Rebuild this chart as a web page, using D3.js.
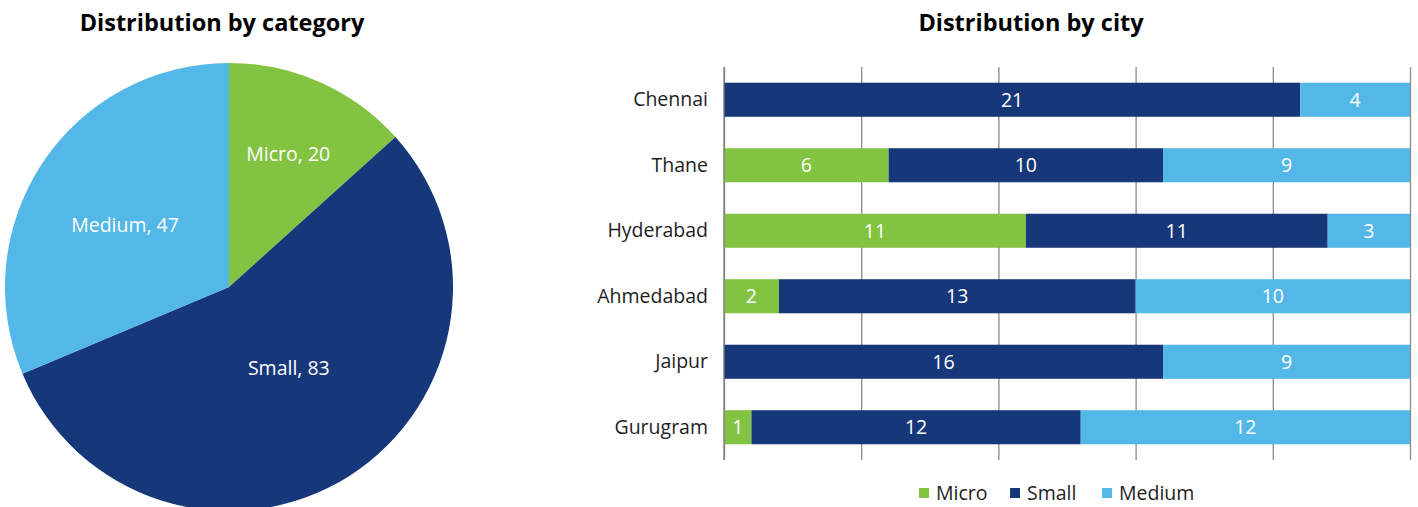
<!DOCTYPE html>
<html>
    <head>
        <title>Distribution charts</title>
        <script src="https://d3js.org/d3.v7.min.js"></script>
        <style>
            body { margin:0; background:#fff; }
            svg { display:block; font-family:'Open Sans', sans-serif; }
        </style>
    </head>
    <body>
        <svg width="1418" height="507"></svg>
    </body>
    <script>
        // chart data
        const pieCategories = ['Micro', 'Small', 'Medium'];
        const pieValues = [20, 83, 47];
        const cities = ['Chennai', 'Thane', 'Hyderabad', 'Ahmedabad', 'Jaipur', 'Gurugram'];
        const microValues = [0, 6, 11, 2, 0, 1];
        const smallValues = [21, 10, 11, 13, 16, 12];
        const mediumValues = [4, 9, 3, 10, 9, 12];
        const xTicks = [0, 5, 10, 15, 20, 25];

        const colors = { Micro:'#82c341', Small:'#17377b', Medium:'#53b8e7' };
        const labelSize = '19.5px';
        let svg = d3.select('svg');

        // ---- pie ----
        let pieG = svg.append('g').attr('transform', 'translate(229,287)');
        let radius = 224;
        let pieData = d3.pie().sort(null)(pieValues)
                        .map((p,i) => Object.assign(p, {name: pieCategories[i]}));
        let arc = d3.arc().innerRadius(0).outerRadius(radius);
        pieG.selectAll('path')
            .data(pieData)
            .join('path')
            .attr('d', arc)
            .style('fill', d => colors[d.name]);

        // label radius (share of pie radius) and angle nudge, Excel "best fit" look
        let labelR = { Micro:0.65, Small:0.45, Medium:0.54 };
        let labelShift = { Micro:0, Small:-0.07, Medium:-0.05 };
        pieG.selectAll('.pie-label')
            .data(pieData)
            .join('text')
            .classed('pie-label', true)
            .attr('transform', d => {
                let r = labelR[d.name] * radius;
                let a = (d.startAngle + d.endAngle) / 2 + labelShift[d.name];
                return `translate(${r * Math.sin(a)},${-r * Math.cos(a)})`;
            })
            .attr('text-anchor', 'middle')
            .attr('dy', '0.35em')
            .style('fill', '#fff')
            .style('font-size', labelSize)
            .text(d => `${d.name}, ${d.value}`);

        svg.append('text')
            .attr('x', 222).attr('y', 31)
            .attr('text-anchor', 'middle')
            .style('font-weight', 'bold')
            .style('font-size', '23.5px')
            .text('Distribution by category');

        // ---- stacked bars ----
        svg.append('text')
            .attr('x', 1031).attr('y', 31)
            .attr('text-anchor', 'middle')
            .style('font-weight', 'bold')
            .style('font-size', '23.5px')
            .text('Distribution by city');

        let xScale = d3.scaleLinear().domain([0, 25]).range([724, 1410]);
        let yScale = d3.scaleBand().domain(cities).range([67, 460])
                        .paddingInner(0.48).paddingOuter(0.24);

        // gridlines
        let gridG = svg.append('g')
            .attr('transform', 'translate(0,460)')
            .call(d3.axisBottom(xScale).tickValues(xTicks).tickSize(-393).tickFormat(''));
        gridG.select('.domain').remove();
        gridG.selectAll('line').style('stroke', '#8a8a8a').style('stroke-width', 1.3);

        let rows = cities.map((c,i) => ({city:c, Micro:microValues[i], Small:smallValues[i], Medium:mediumValues[i]}));
        let stack = d3.stack().keys(pieCategories)(rows);

        let layers = svg.selectAll('.layer')
            .data(stack)
            .join('g')
            .classed('layer', true)
            .style('fill', d => colors[d.key]);
        layers.selectAll('rect')
            .data(d => d.filter(s => s[1] > s[0]))
            .join('rect')
            .attr('x', d => xScale(d[0]))
            .attr('width', d => xScale(d[1]) - xScale(d[0]))
            .attr('y', d => yScale(d.data.city))
            .attr('height', yScale.bandwidth());
        layers.selectAll('text')
            .data(d => d.filter(s => s[1] > s[0]))
            .join('text')
            .attr('x', d => (xScale(d[0]) + xScale(d[1])) / 2)
            .attr('y', d => yScale(d.data.city) + yScale.bandwidth() / 2)
            .attr('dy', '0.35em')
            .attr('text-anchor', 'middle')
            .style('fill', '#fff')
            .style('font-size', labelSize)
            .text(d => d[1] - d[0]);

        // category axis
        let yAxisG = svg.append('g')
            .attr('transform', 'translate(724,0)')
            .call(d3.axisLeft(yScale).tickSize(0).tickPadding(16));
        yAxisG.select('.domain').remove();
        yAxisG.selectAll('text')
            .style('font-size', labelSize)
            .style('font-family', "'Open Sans', sans-serif")
            .style('fill', '#1e1e1e');
        svg.append('line')
            .attr('x1', 724).attr('x2', 724)
            .attr('y1', 67).attr('y2', 460)
            .style('stroke', '#7a7a7a').style('stroke-width', 1.3);

        // legend
        let legendX = [919, 1010, 1102];
        let legend = svg.selectAll('.legend')
            .data(pieCategories)
            .join('g')
            .classed('legend', true)
            .attr('transform', (d,i) => `translate(${legendX[i]},493)`);
        legend.append('rect')
            .attr('x', 0).attr('y', -5)
            .attr('width', 10).attr('height', 10)
            .style('fill', d => colors[d]);
        legend.append('text')
            .attr('x', 17).attr('dy', '0.35em')
            .style('font-size', labelSize)
            .style('fill', '#1e1e1e')
            .text(d => d);
    </script>
</html>
